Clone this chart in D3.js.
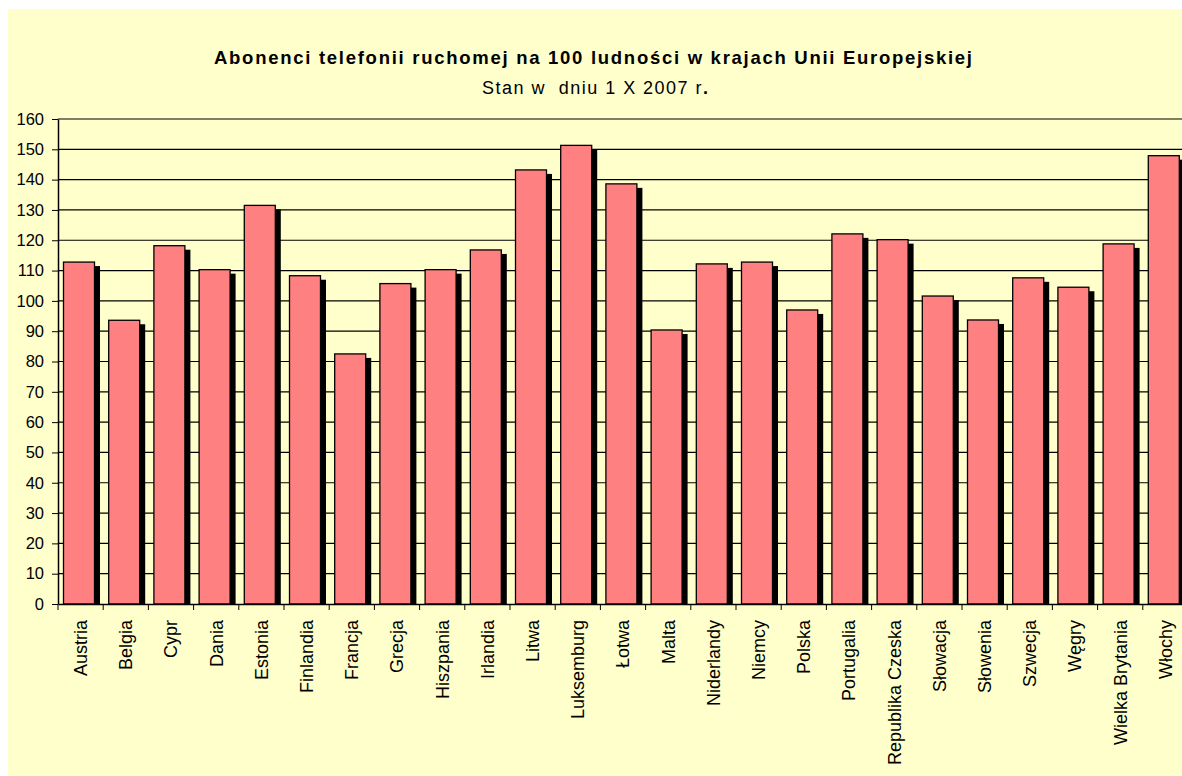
<!DOCTYPE html>
<html>
<head>
<meta charset="utf-8">
<script src="https://cdn.jsdelivr.net/npm/d3@7"></script>
<style>
  body { margin: 0; background: #fff; }
  text { font-family: "Liberation Sans", Arial, sans-serif; }
</style>
</head>
<body>
<script>
const countries = ["Austria", "Belgia", "Cypr", "Dania", "Estonia", "Finlandia", "Francja", "Grecja",
  "Hiszpania", "Irlandia", "Litwa", "Luksemburg", "Łotwa", "Malta", "Niderlandy", "Niemcy", "Polska",
  "Portugalia", "Republika Czeska", "Słowacja", "Słowenia", "Szwecja", "Węgry", "Wielka Brytania", "Włochy"];
const subscribers = [112.8, 93.6, 118.2, 110.3, 131.5, 108.3, 82.5, 105.7,
  110.3, 116.8, 143.2, 151.3, 138.6, 90.4, 112.2, 112.8, 97.0,
  122.1, 120.2, 101.6, 93.7, 107.6, 104.5, 118.8, 147.9];
const yTicks = d3.range(0, 161, 10);

const width = 1182, height = 776;
const plotLeft = 58, plotTop = 119, plotBottom = 604;
const band = 45.2;

const svg = d3.select("body").append("svg")
  .attr("width", width)
  .attr("height", height);

svg.append("rect")
  .attr("x", 8).attr("y", 9)
  .attr("width", width - 8).attr("height", height - 9)
  .attr("fill", "#ffffcc");

const x = d3.scaleBand()
  .domain(countries)
  .range([plotLeft, plotLeft + band * countries.length]);

const y = d3.scaleLinear()
  .domain([0, 160])
  .range([plotBottom, plotTop]);

// gridlines
svg.append("g")
  .selectAll("line")
  .data(yTicks.slice(1))
  .join("line")
  .attr("x1", plotLeft).attr("x2", x.range()[1])
  .attr("y1", d => y(d)).attr("y2", d => y(d))
  .attr("stroke", "#000")
  .attr("stroke-width", 1.2);

// shadows
svg.append("g")
  .selectAll("rect")
  .data(countries)
  .join("rect")
  .attr("x", d => x(d) + 11)
  .attr("y", (d, i) => y(subscribers[i]) + 4)
  .attr("width", 31)
  .attr("height", (d, i) => plotBottom - y(subscribers[i]) - 4)
  .attr("fill", "#000");

// bars
svg.append("g")
  .selectAll("rect")
  .data(countries)
  .join("rect")
  .attr("x", d => x(d) + 5.5)
  .attr("y", (d, i) => y(subscribers[i]))
  .attr("width", 31)
  .attr("height", (d, i) => plotBottom - y(subscribers[i]))
  .attr("fill", "#ff8080")
  .attr("stroke", "#000")
  .attr("stroke-width", 1.3);

// y axis
const yAxis = svg.append("g")
  .attr("transform", `translate(${plotLeft},0)`)
  .call(d3.axisLeft(y).tickValues(yTicks).tickSize(6).tickPadding(8).tickSizeOuter(0));
yAxis.select(".domain").attr("stroke", "#000").attr("stroke-width", 1.5);
yAxis.selectAll(".tick line").attr("stroke", "#000");
yAxis.selectAll("text")
  .attr("font-size", 16.5)
  .attr("font-family", "Liberation Sans, Arial, sans-serif")
  .attr("fill", "#000");

// x axis
const xAxis = svg.append("g")
  .attr("transform", `translate(0,${plotBottom})`)
  .call(d3.axisBottom(x).tickSize(0).tickSizeOuter(0));
xAxis.select(".domain").attr("stroke", "#000").attr("stroke-width", 1.5);
xAxis.selectAll("text")
  .attr("font-size", 18)
  .attr("font-family", "Liberation Sans, Arial, sans-serif")
  .attr("fill", "#000")
  .attr("text-anchor", "end")
  .attr("dy", "0.35em")
  .attr("x", 0).attr("y", 0)
  .attr("transform", "translate(0,16) rotate(-90)");

// category separator ticks
svg.append("g")
  .selectAll("line")
  .data(d3.range(countries.length + 1))
  .join("line")
  .attr("x1", i => plotLeft + band * i).attr("x2", i => plotLeft + band * i)
  .attr("y1", plotBottom).attr("y2", plotBottom + 6)
  .attr("stroke", "#000");

// titles
svg.append("text")
  .attr("x", 593).attr("y", 64)
  .attr("text-anchor", "middle")
  .attr("font-size", 18.5)
  .attr("font-weight", "bold")
  .attr("textLength", 758)
  .attr("lengthAdjust", "spacing")
  .text("Abonenci telefonii ruchomej na 100 ludności w krajach Unii Europejskiej");

const sub = svg.append("text")
  .attr("x", 595).attr("y", 94)
  .attr("text-anchor", "middle")
  .attr("font-size", 18)
  .style("white-space", "pre")
  .attr("textLength", 226)
  .attr("lengthAdjust", "spacing");
sub.append("tspan").text("Stan w  dniu 1 X 2007 r");
sub.append("tspan").attr("font-weight", "bold").text(".");
</script>
</body>
</html>
